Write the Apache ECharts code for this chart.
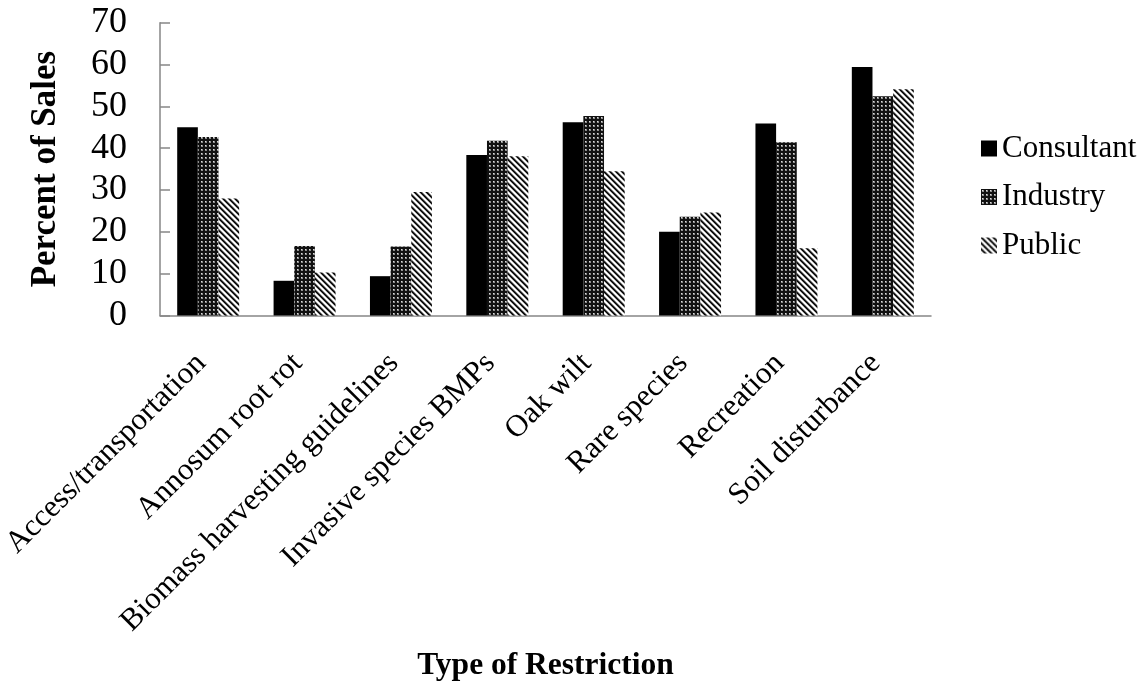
<!DOCTYPE html>
<html>
<head>
<meta charset="utf-8">
<script src="https://cdn.jsdelivr.net/npm/echarts@6/dist/echarts.min.js"></script>
<style>
  html, body { margin: 0; padding: 0; background: #ffffff; }
  #chart { width: 1142px; height: 683px; }
</style>
</head>
<body>
<div id="chart"></div>
<script>
// Restriction types shown along the horizontal axis
const categories = [
  'Access/transportation',
  'Annosum root rot',
  'Biomass harvesting guidelines',
  'Invasive species BMPs',
  'Oak wilt',
  'Rare species',
  'Recreation',
  'Soil disturbance'
];

// Percent of sales affected, by ownership group
const consultant = [45.0, 8.3, 9.4, 38.4, 46.2, 20.0, 45.9, 59.4];
const industry   = [42.7, 16.6, 16.5, 41.8, 47.7, 23.6, 41.4, 52.4];
const publicLand = [28.0, 10.3, 29.5, 38.1, 34.5, 24.6, 16.1, 54.1];

const yTicks = { min: 0, max: 70, interval: 10 };

const FONT = '"Liberation Serif", "Times New Roman", serif';

// Dark dotted fill for the Industry bars
function dotPattern() {
  const c = document.createElement('canvas');
  c.width = 4; c.height = 4;
  const g = c.getContext('2d');
  g.fillStyle = '#111111';
  g.fillRect(0, 0, 4, 4);
  g.fillStyle = '#8c8c8c';
  g.fillRect(1, 1, 2, 2);
  g.fillStyle = '#dcdcdc';
  g.fillRect(1, 1, 1, 1);
  return c;
}

// Wide downward diagonal stripes for the Public bars
function stripePattern() {
  const n = 6;
  const c = document.createElement('canvas');
  c.width = n; c.height = n;
  const g = c.getContext('2d');
  const shades = ['#000000', '#262626', '#9a9a9a', '#ffffff', '#ffffff', '#9a9a9a'];
  for (let y = 0; y < n; y++) {
    for (let x = 0; x < n; x++) {
      const k = ((x - y) % n + n) % n;
      g.fillStyle = shades[k];
      g.fillRect(x, y, 1, 1);
    }
  }
  return c;
}

const chart = echarts.init(document.getElementById('chart'), null, { renderer: 'canvas' });

const axisGray = '#868686';

chart.setOption({
  animation: false,
  backgroundColor: '#ffffff',
  textStyle: { fontFamily: FONT, color: '#000' },
  grid: {
    left: 160, right: 211, top: 22.7, bottom: 367.5,
    containLabel: false,
    outerBoundsMode: 'none'
  },
  legend: {
    orient: 'vertical',
    left: 976,
    top: 128,
    itemWidth: 16,
    itemHeight: 16,
    itemGap: 17.5,
    icon: 'rect',
    textStyle: { fontFamily: FONT, fontSize: 31, color: '#000', lineHeight: 31 },
    data: ['Consultant', 'Industry', 'Public']
  },
  xAxis: {
    type: 'category',
    data: categories,
    name: 'Type of Restriction',
    nameLocation: 'middle',
    nameGap: 334,
    nameTextStyle: { fontFamily: FONT, fontSize: 31.5, fontWeight: 'bold', color: '#000' },
    axisLine: { lineStyle: { color: axisGray, width: 1.5 } },
    axisTick: { show: false },
    axisLabel: {
      rotate: 45,
      interval: 0,
      margin: 36,
      padding: [0, 10, 0, 0],
      fontFamily: FONT,
      fontSize: 31,
      color: '#000'
    }
  },
  yAxis: {
    type: 'value',
    min: yTicks.min,
    max: yTicks.max,
    interval: yTicks.interval,
    name: 'Percent of Sales',
    nameLocation: 'middle',
    nameGap: 97,
    nameTextStyle: { fontFamily: FONT, fontSize: 35, fontWeight: 'bold', color: '#000' },
    axisLine: { show: true, lineStyle: { color: axisGray, width: 1.5 } },
    axisTick: { show: true, inside: true, length: 10, lineStyle: { color: axisGray, width: 1.5 } },
    splitLine: { show: false },
    axisLabel: { fontFamily: FONT, fontSize: 36, color: '#000', margin: 33 }
  },
  series: [
    {
      name: 'Consultant',
      type: 'bar',
      data: consultant,
      barGap: '0%',
      barCategoryGap: '35.7%',
      itemStyle: { color: '#000000' }
    },
    {
      name: 'Industry',
      type: 'bar',
      data: industry,
      barGap: '0%',
      barCategoryGap: '35.7%',
      itemStyle: { color: { image: dotPattern(), repeat: 'repeat' } }
    },
    {
      name: 'Public',
      type: 'bar',
      data: publicLand,
      barGap: '0%',
      barCategoryGap: '35.7%',
      itemStyle: { color: { image: stripePattern(), repeat: 'repeat' } }
    }
  ]
});
</script>
</body>
</html>
